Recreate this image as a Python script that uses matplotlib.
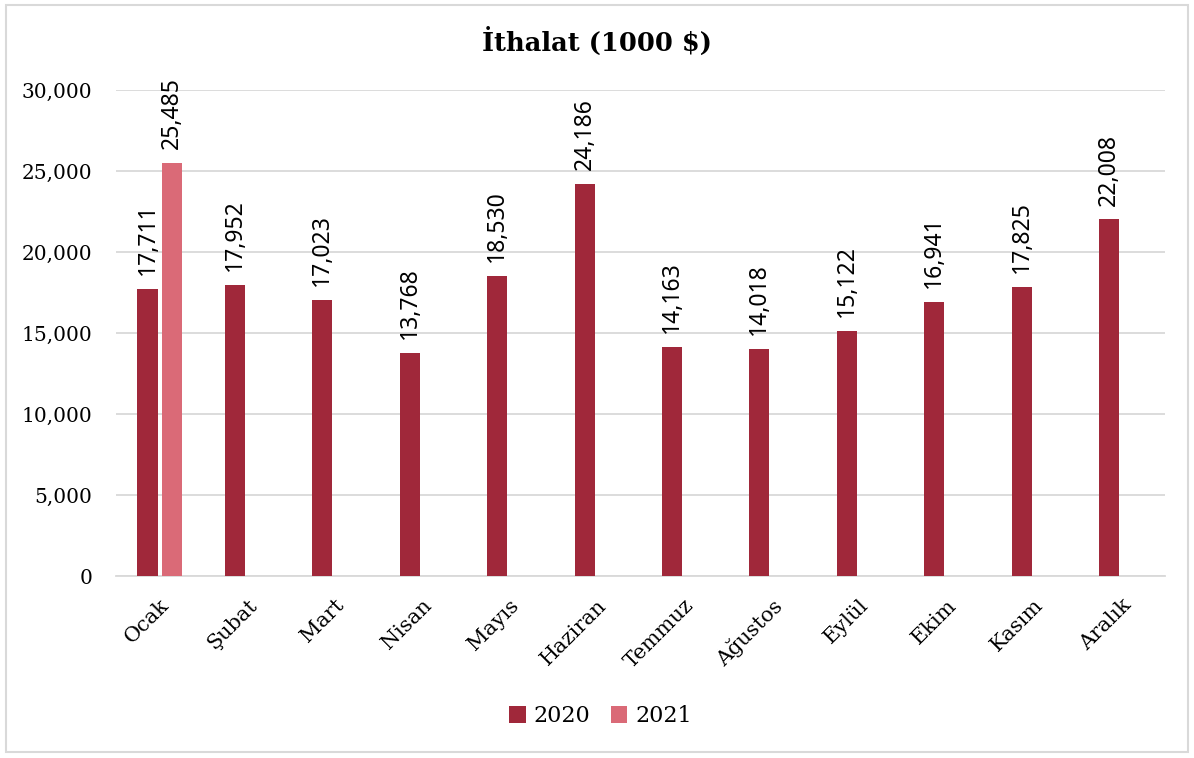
import numpy as np
import matplotlib.pyplot as plt
from matplotlib.patches import Rectangle

months = ['Ocak', 'Şubat', 'Mart', 'Nisan', 'Mayıs', 'Haziran',
          'Temmuz', 'Ağustos', 'Eylül', 'Ekim', 'Kasım', 'Aralık']
values_2020 = [17711, 17952, 17023, 13768, 18530, 24186,
               14163, 14018, 15122, 16941, 17825, 22008]
values_2021 = [25485] + [np.nan] * 11
yticks = [0, 5000, 10000, 15000, 20000, 25000, 30000]

color_2020 = '#A0283A'
color_2021 = '#DA6A77'
serif = ['DejaVu Serif']
sans = ['Noto Sans', 'DejaVu Sans']

fig = plt.figure(figsize=(11.94, 7.58), dpi=100)
fig.patches.append(Rectangle((0.005, 0.008), 0.99, 0.985, transform=fig.transFigure,
                             fill=False, edgecolor='#d9d9d9', linewidth=1.5))
ax = fig.add_axes([0.0972, 0.2401, 0.8785, 0.6412])

x = np.arange(len(months))
width = 0.23
offset = 0.14
ax.bar(x - offset, values_2020, width, color=color_2020, label='2020', zorder=3)
ax.bar(x + offset, values_2021, width, color=color_2021, label='2021', zorder=3)

# data labels, rotated, a little above each bar
for xi, v in zip(x, values_2020):
    ax.annotate(f'{v:,}', (xi - offset, v), xytext=(0, 10), textcoords='offset points',
                rotation=90, ha='center', va='bottom', fontsize=16.5, family=sans)
for xi, v in zip(x, values_2021):
    if not np.isnan(v):
        ax.annotate(f'{int(v):,}', (xi + offset, v), xytext=(0, 10), textcoords='offset points',
                    rotation=90, ha='center', va='bottom', fontsize=16.5, family=sans)

ax.set_xlim(-0.5, len(months) - 0.5)
ax.set_ylim(0, 30000)
ax.set_yticks(yticks)
ax.set_yticklabels([f'{t:,}' for t in yticks], family=serif, fontsize=14.5)
ax.set_xticks(x)
ax.set_xticklabels(months, rotation=45, ha='right', rotation_mode='anchor',
                   family=serif, fontsize=15)
ax.tick_params(axis='y', length=0, pad=17)
ax.tick_params(axis='x', length=0, pad=14)
ax.grid(axis='y', color='#d9d9d9', linewidth=1.3, zorder=0)
for s in ['top', 'right', 'left']:
    ax.spines[s].set_visible(False)
ax.spines['bottom'].set_color('#d9d9d9')
ax.spines['bottom'].set_linewidth(1.3)

fig.text(0.5, 0.945, 'İthalat (1000 $)', ha='center', va='center',
         fontsize=18.5, fontweight='bold', family=serif)

fig.legend(loc='center', bbox_to_anchor=(0.503, 0.055), ncol=2, frameon=False,
           prop={'family': serif, 'size': 16}, handlelength=0.75, handleheight=0.75,
           handletextpad=0.35, columnspacing=0.9)

fig.savefig('out.png', dpi=100)
